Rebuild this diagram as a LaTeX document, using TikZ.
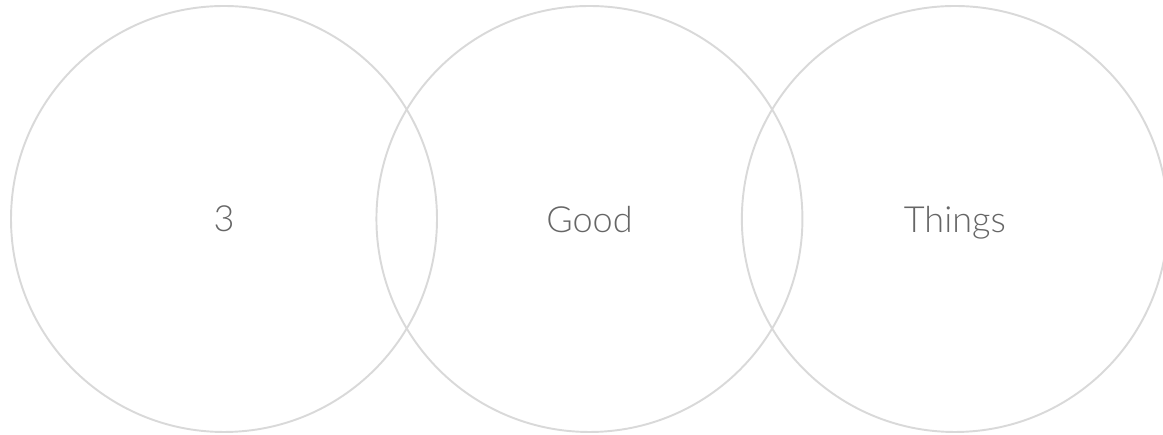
\documentclass[tikz,border=0pt]{standalone}
\usepackage{fontspec}
\setmainfont{Lato}[UprightFont=* Light]
\usetikzlibrary{positioning}
\definecolor{ringgray}{HTML}{D9D9D9}
\definecolor{wordgray}{HTML}{666666}

\begin{document}
\begin{tikzpicture}[
  ring/.style={circle, draw=ringgray, line width=1.1pt, minimum size=8.52cm,
               inner sep=0pt, text depth=0pt, text=wordgray,
               font=\fontsize{20.5}{24}\selectfont}]

%% Lienzo fijo: el tercer círculo se sale por la derecha y queda cortado.
\useasboundingbox (0,0) rectangle (23.26,8.7);

%% ---- los tres círculos, solapados ----
%% text depth=0pt: sin él la "g" de Things subía la palabra.
\node[ring] (three) at (4.48,4.32) {3};
\node[ring, right=-1.25cm of three] (good) {Good};
\node[ring, right=-1.25cm of good] (things) {Things};

\end{tikzpicture}
\end{document}
